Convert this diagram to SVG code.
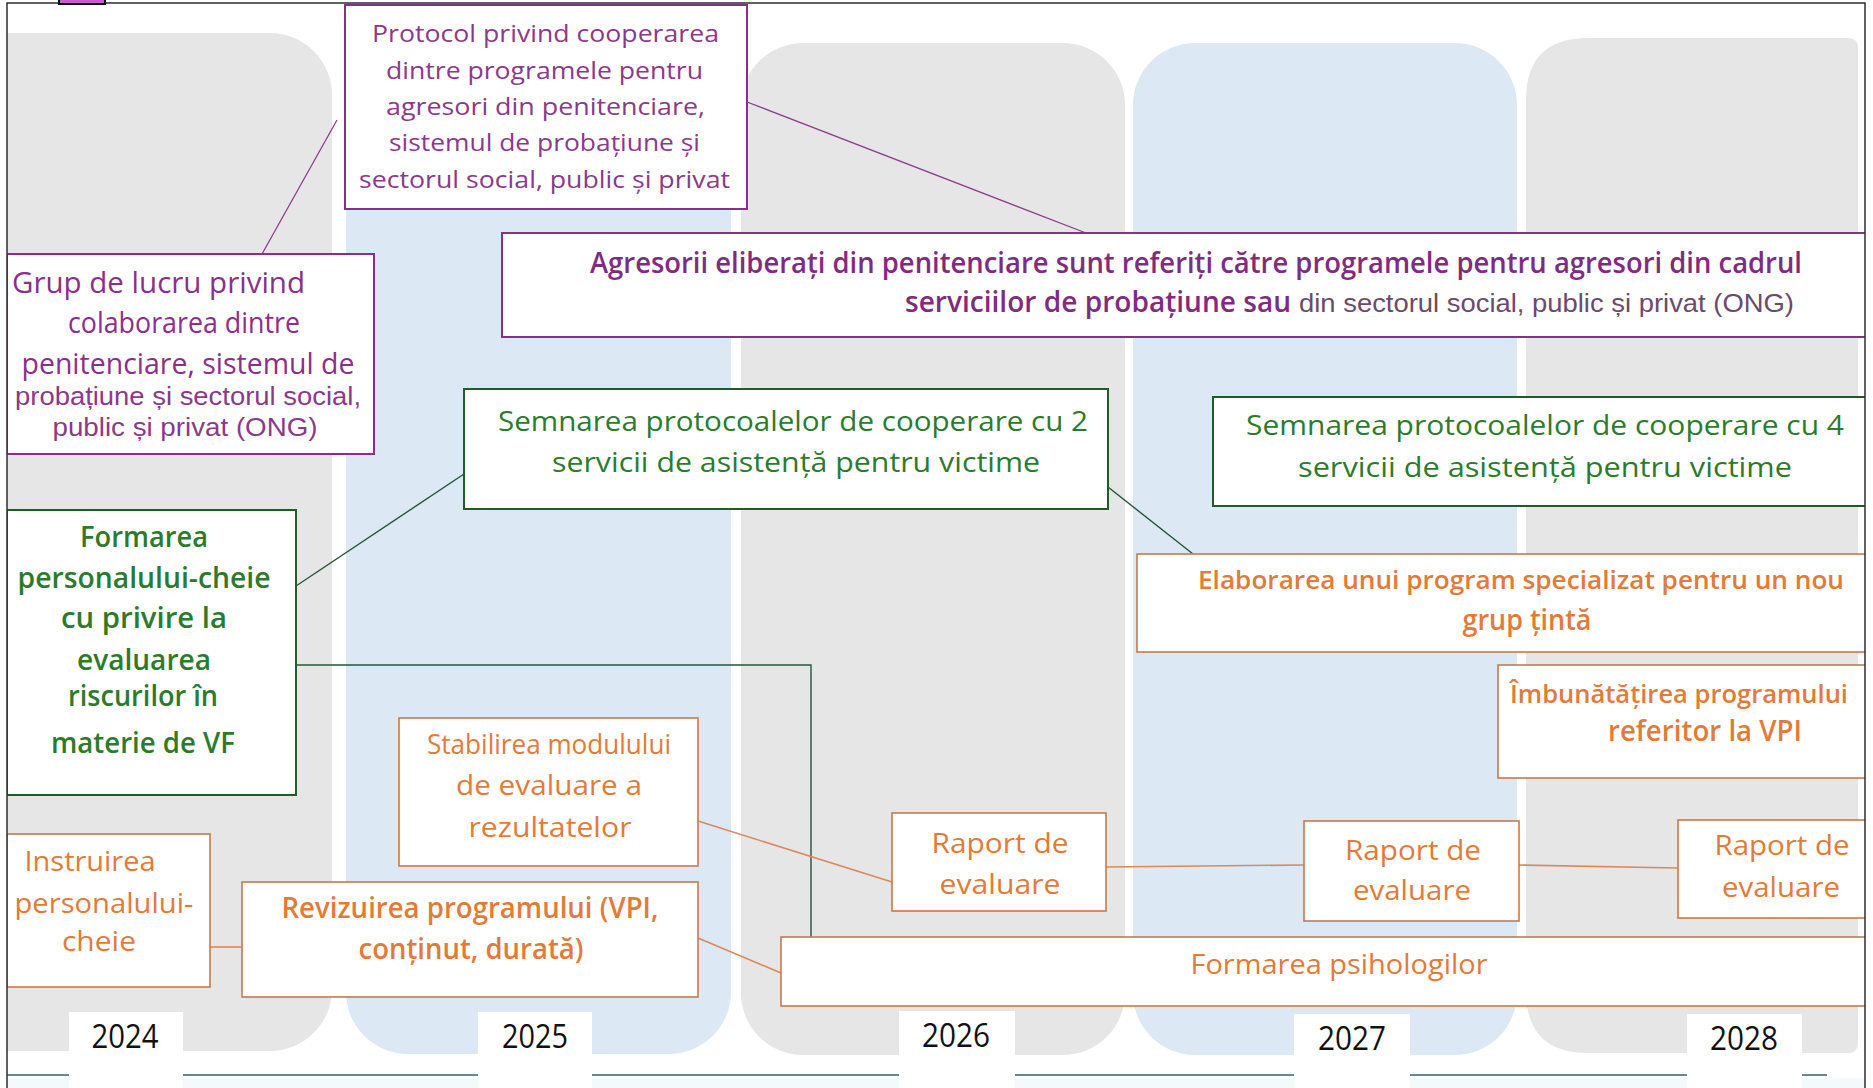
<svg xmlns="http://www.w3.org/2000/svg" width="1873" height="1088" viewBox="0 0 1873 1088">
<defs>
<clipPath id="frameClip"><rect x="7" y="3" width="1858" height="1090"/></clipPath>
<style>
.cg{fill:#e6e6e6}
.cb{fill:#dce8f4}
.box{fill:#ffffff;stroke-width:2}
.pb{stroke:#8b2d8b}
.gb{stroke:#1f5c28}
.ob{stroke:#c97a48;stroke-width:1.6}
text{font-family:"Open Sans","Noto Sans",sans-serif;text-anchor:middle}
.pt{fill:#8a3a8a;font-size:24px}
.pt2{fill:#8a2f8a;font-size:29px;font-weight:500}
.ar{font-family:"Liberation Sans",Arial,sans-serif;font-size:26px}
.gt{fill:#2d7a2d;font-size:28px;font-weight:500}
.ot{fill:#e07b39;font-size:28px;font-weight:500}
.b{font-weight:600}
.yr{fill:#111;font-size:33px}
.cp{stroke:#8c3f8c;stroke-width:1.3;fill:none}
.cgn{stroke:#24553a;stroke-width:1.4;fill:none}
.co{stroke:#d98a5a;stroke-width:1.6;fill:none}
</style>
</defs>
<rect x="0" y="0" width="1873" height="1088" fill="#ffffff"/>
<g clip-path="url(#frameClip)">
<g id="columns">
<rect class="cg" x="-60" y="33" width="392" height="1018" rx="62"/>
<rect class="cb" x="346" y="40" width="385" height="1014" rx="62"/>
<rect class="cg" x="741" y="43" width="384" height="1012" rx="62"/>
<rect class="cb" x="1133" y="43" width="384" height="1012" rx="62"/>
<path class="cg" d="M1588,38 H1848 Q1858,38 1858,48 V1043 Q1858,1053 1848,1053 H1588 Q1526,1053 1526,991 V100 Q1526,38 1588,38 Z"/>
<rect x="0" y="1078" width="1873" height="12" fill="#f4f9fb"/>
</g>
<g id="timeline">
<line x1="7" y1="1075" x2="1827" y2="1075" stroke="#6a8694" stroke-width="2"/>
<g id="y2024"><rect x="69" y="1012" width="114" height="80" fill="#fff"/><text class="yr" x="125" y="1048" textLength="67" lengthAdjust="spacingAndGlyphs">2024</text></g>
<g id="y2025"><rect x="478" y="1012" width="114" height="80" fill="#fff"/><text class="yr" x="535" y="1048" textLength="66" lengthAdjust="spacingAndGlyphs">2025</text></g>
<g id="y2026"><rect x="899" y="1011" width="116" height="80" fill="#fff"/><text class="yr" x="956" y="1047" textLength="68" lengthAdjust="spacingAndGlyphs">2026</text></g>
<g id="y2027"><rect x="1294" y="1014" width="116" height="80" fill="#fff"/><text class="yr" x="1352" y="1050" textLength="68" lengthAdjust="spacingAndGlyphs">2027</text></g>
<g id="y2028"><rect x="1687" y="1014" width="115" height="80" fill="#fff"/><text class="yr" x="1744" y="1050" textLength="68" lengthAdjust="spacingAndGlyphs">2028</text></g>
</g>
<g id="connectors">
<line class="cp" x1="262" y1="254" x2="337" y2="120"/>
<line class="cp" x1="747" y1="102" x2="1086" y2="233"/>
<line class="cgn" x1="296" y1="586" x2="464" y2="474"/>
<line class="cgn" x1="1108" y1="487" x2="1193" y2="554"/>
<polyline class="cgn" points="296,665 811,665 811,937"/>
<line class="co" x1="698" y1="821" x2="892" y2="882"/>
<line class="co" x1="698" y1="938" x2="781" y2="973"/>
<line class="co" x1="210" y1="947" x2="242" y2="947"/>
<line class="co" x1="1106" y1="867" x2="1304" y2="865"/>
<line class="co" x1="1519" y1="865" x2="1678" y2="868"/>
</g>
<g id="protocol">
<rect class="box pb" x="345" y="5" width="402" height="204"/>
<text class="pt" x="545.5" y="42" textLength="347" lengthAdjust="spacingAndGlyphs">Protocol privind cooperarea</text>
<text class="pt" x="544.5" y="79" textLength="317" lengthAdjust="spacingAndGlyphs">dintre programele pentru</text>
<text class="pt" x="545.5" y="115" textLength="319" lengthAdjust="spacingAndGlyphs">agresori din penitenciare,</text>
<text class="pt" x="544.5" y="151" textLength="311" lengthAdjust="spacingAndGlyphs">sistemul de probațiune și</text>
<text class="pt" x="544.5" y="188" textLength="371" lengthAdjust="spacingAndGlyphs">sectorul social, public și privat</text>
</g>
<g id="grup">
<rect class="box pb" x="7" y="254" width="367" height="200"/>
<text class="pt2" x="12" y="293" style="text-anchor:start" textLength="293" lengthAdjust="spacingAndGlyphs">Grup de lucru privind</text>
<text class="pt2" x="184" y="333" textLength="232" lengthAdjust="spacingAndGlyphs">colaborarea dintre</text>
<text class="pt2" x="188" y="374" textLength="333" lengthAdjust="spacingAndGlyphs">penitenciare, sistemul de</text>
<text class="ar" fill="#8a3a8a" x="188" y="405" textLength="346" lengthAdjust="spacingAndGlyphs">probațiune și sectorul social,</text>
<text class="ar" fill="#8a3a8a" x="185" y="436" textLength="265" lengthAdjust="spacingAndGlyphs">public și privat (ONG)</text>
</g>
<g id="agresorii">
<rect class="box pb" x="502" y="233" width="1380" height="104"/>
<text class="pt2 b" x="1196" y="273" textLength="1212" lengthAdjust="spacingAndGlyphs" style="fill:#7f2c7f">Agresorii eliberați din penitenciare sunt referiți către programele pentru agresori din cadrul</text>
<text class="pt2 b" x="905" y="312" style="text-anchor:start;fill:#7f2c7f" textLength="386" lengthAdjust="spacingAndGlyphs">serviciilor de probațiune sau</text>
<text class="ar" x="1299" y="312" style="text-anchor:start" fill="#6b4a6b" textLength="495" lengthAdjust="spacingAndGlyphs">din sectorul social, public și privat (ONG)</text>
</g>
<g id="semnare2">
<rect class="box gb" x="464" y="389" width="644" height="120"/>
<text class="gt" x="793" y="431" textLength="590" lengthAdjust="spacingAndGlyphs">Semnarea protocoalelor de cooperare cu 2</text>
<text class="gt" x="796" y="472" textLength="488" lengthAdjust="spacingAndGlyphs">servicii de asistență pentru victime</text>
</g>
<g id="semnare4">
<rect class="box gb" x="1213" y="397" width="680" height="109"/>
<text class="gt" x="1545" y="435" textLength="598" lengthAdjust="spacingAndGlyphs">Semnarea protocoalelor de cooperare cu 4</text>
<text class="gt" x="1545" y="477" textLength="494" lengthAdjust="spacingAndGlyphs">servicii de asistență pentru victime</text>
</g>
<g id="formare-personal">
<rect class="box gb" x="7" y="510" width="289" height="285"/>
<text class="gt b" x="144" y="547" textLength="128" lengthAdjust="spacingAndGlyphs">Formarea</text>
<text class="gt b" x="144" y="588" textLength="253" lengthAdjust="spacingAndGlyphs">personalului-cheie</text>
<text class="gt b" x="144" y="628" textLength="166" lengthAdjust="spacingAndGlyphs">cu privire la</text>
<text class="gt b" x="144" y="670" textLength="134" lengthAdjust="spacingAndGlyphs">evaluarea</text>
<text class="gt b" x="143" y="706" textLength="150" lengthAdjust="spacingAndGlyphs">riscurilor în</text>
<text class="gt b" x="143" y="753" textLength="184" lengthAdjust="spacingAndGlyphs">materie de VF</text>
</g>
<g id="elaborare">
<rect class="box ob" x="1137" y="554" width="750" height="98"/>
<text class="ot b" x="1521" y="589" style="font-size:25px" textLength="646" lengthAdjust="spacingAndGlyphs">Elaborarea unui program specializat pentru un nou</text>
<text class="ot b" x="1527" y="630" textLength="129" lengthAdjust="spacingAndGlyphs">grup țintă</text>
</g>
<g id="imbunatatire">
<rect class="box ob" x="1498" y="665" width="380" height="113"/>
<text class="ot b" x="1679" y="703" style="font-size:25px" textLength="338" lengthAdjust="spacingAndGlyphs">Îmbunătățirea programului</text>
<text class="ot b" x="1705" y="741" textLength="194" lengthAdjust="spacingAndGlyphs">referitor la VPI</text>
</g>
<g id="stabilire">
<rect class="box ob" x="399" y="718" width="299" height="148"/>
<text class="ot" x="549" y="754" textLength="244" lengthAdjust="spacingAndGlyphs">Stabilirea modulului</text>
<text class="ot" x="549" y="795" textLength="186" lengthAdjust="spacingAndGlyphs">de evaluare a</text>
<text class="ot" x="550" y="837" textLength="163" lengthAdjust="spacingAndGlyphs">rezultatelor</text>
</g>
<g id="instruire">
<rect class="box ob" x="7" y="834" width="203" height="153"/>
<text class="ot" x="90" y="871" textLength="131" lengthAdjust="spacingAndGlyphs">Instruirea</text>
<text class="ot" x="104" y="913" textLength="179" lengthAdjust="spacingAndGlyphs">personalului-</text>
<text class="ot" x="99" y="951" textLength="74" lengthAdjust="spacingAndGlyphs">cheie</text>
</g>
<g id="revizuire">
<rect class="box ob" x="242" y="882" width="456" height="115"/>
<text class="ot b" x="470" y="918" textLength="377" lengthAdjust="spacingAndGlyphs">Revizuirea programului (VPI,</text>
<text class="ot b" x="471" y="959" textLength="225" lengthAdjust="spacingAndGlyphs">conținut, durată)</text>
</g>
<g id="raport-2026">
<rect class="box ob" x="892" y="813" width="214" height="98"/>
<text class="ot" x="1000" y="853" textLength="137" lengthAdjust="spacingAndGlyphs">Raport de</text>
<text class="ot" x="1000" y="894" textLength="121" lengthAdjust="spacingAndGlyphs">evaluare</text>
</g>
<g id="raport-2027">
<rect class="box ob" x="1304" y="821" width="215" height="100"/>
<text class="ot" x="1413" y="860" textLength="136" lengthAdjust="spacingAndGlyphs">Raport de</text>
<text class="ot" x="1412" y="900" textLength="118" lengthAdjust="spacingAndGlyphs">evaluare</text>
</g>
<g id="raport-2028">
<rect class="box ob" x="1678" y="820" width="200" height="98"/>
<text class="ot" x="1782" y="855" textLength="135" lengthAdjust="spacingAndGlyphs">Raport de</text>
<text class="ot" x="1781" y="897" textLength="118" lengthAdjust="spacingAndGlyphs">evaluare</text>
</g>
<g id="formare-psihologi">
<rect class="box ob" x="781" y="937" width="1100" height="69"/>
<text class="ot" x="1339" y="974" textLength="297" lengthAdjust="spacingAndGlyphs">Formarea psihologilor</text>
</g>
</g>
<rect id="frame" x="7" y="3" width="1858" height="1100" fill="none" stroke="#3a3a3a" stroke-width="1.6"/>
<rect id="marker-square" x="59" y="-3" width="46" height="7" fill="#c85ec8" stroke="#000" stroke-width="2"/>
</svg>
